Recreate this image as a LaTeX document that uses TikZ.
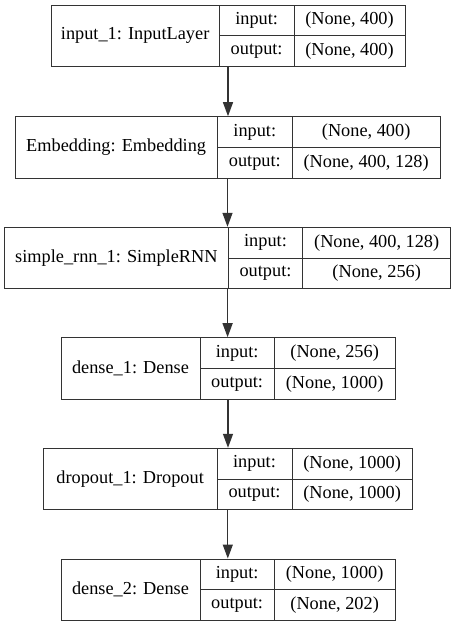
\documentclass[tikz,border=0pt]{standalone}
\usepackage{fontspec}
\setmainfont{Liberation Serif}
\usetikzlibrary{arrows.meta}

\tikzset{
  box/.style={draw=black!80, line width=1pt, inner sep=0pt},
  cell/.style={inner sep=0pt, font=\fontsize{18.3}{22}\selectfont},
  flow/.style={draw=black!80, line width=1.3pt, ->}
}

% #1 name, #2 top, #3 left, #4 first divider, #5 second divider, #6 right,
% #7 layer text, #8 input shape, #9 output shape
\newcommand{\layer}[9]{%
  \node [box, minimum width={#6pt-#3pt}, minimum height=61.5pt] (#1) at ({(#3+#6)/2},{#2+30.75}) {};
  \draw [box] (#4,#2) -- (#4,{#2+61.5}) (#5,#2) -- (#5,{#2+61.5}) (#4,{#2+30.75}) -- (#6,{#2+30.75});
  \node [cell] (#1-name) at ({(#3+#4)/2},{#2+30.75}) {#7};
  \node [cell] (#1-inl) at ({(#4+#5)/2},{#2+15.4}) {input:};
  \node [cell] (#1-outl) at ({(#4+#5)/2},{#2+46.1}) {output:};
  \node [cell] (#1-inv) at ({(#5+#6)/2},{#2+15.4}) {#8};
  \node [cell] (#1-outv) at ({(#5+#6)/2},{#2+46.1}) {#9};
}

\begin{document}
\begin{tikzpicture} [x=1pt,y=-1pt,>={Triangle[length=14pt,width=10pt]}]
\useasboundingbox (0,0) rectangle (456,627);
\layer{in1}{5}{51}{219.3}{294}{405}{input\_1: InputLayer}{(None, 400)}{(None, 400)}
\layer{emb}{116.7}{15}{217.3}{292.3}{440}{Embedding: Embedding}{(None, 400)}{(None, 400, 128)}
\layer{rnn}{227.3}{4.5}{228.3}{302.7}{450.7}{simple\_rnn\_1: SimpleRNN}{(None, 400, 128)}{(None, 256)}
\layer{dense1}{337.7}{61}{200}{274.3}{395}{dense\_1: Dense}{(None, 256)}{(None, 1000)}
\layer{drop}{448.3}{43.3}{217}{292}{412.3}{dropout\_1: Dropout}{(None, 1000)}{(None, 1000)}
\layer{dense2}{559}{61}{200}{274.3}{395}{dense\_2: Dense}{(None, 1000)}{(None, 202)}
% arrows between layers
\foreach \a/\b in {in1/emb,emb/rnn,rnn/dense1,dense1/drop,drop/dense2}
  \draw [flow] (\a.south) -- (\a.south |- \b.north);
\end{tikzpicture}
\end{document}
